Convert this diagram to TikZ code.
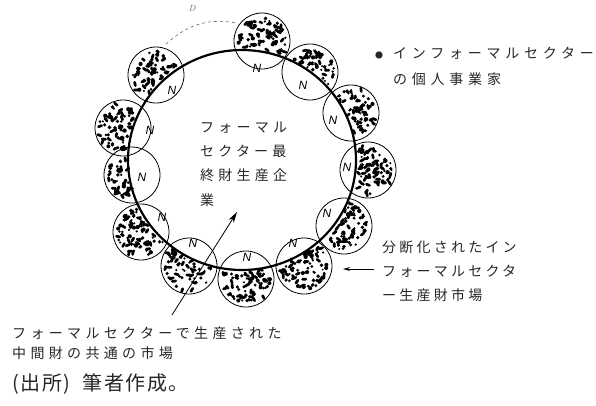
\documentclass[tikz,border=0pt]{standalone}
\usepackage{fontspec}
\newfontfamily\jp{Noto Sans CJK JP}
\newfontfamily\lat{Liberation Sans}
\usetikzlibrary{arrows.meta,shapes.geometric}
\begin{document}
\begin{tikzpicture}[x=1pt,y=-1pt,
  ring/.style={line width=2.2pt},
  cell/.style={circle,draw,line width=0.8pt,minimum size=56pt,inner sep=0pt},
  nlab/.style={font=\lat\itshape\fontsize{12}{12}\selectfont,inner sep=0pt},
  jlab/.style={inner sep=0pt,anchor=base west,align=left,text=black!85},
  conn/.style={line width=0.8pt},
]
\useasboundingbox (0,0) rectangle (596,405);
\pgfmathsetseed{4711}
% stippled individual-firm circles
\foreach \cx/\cy [count=\i] in {262/41,310/72,351/113,368/170,344/226,304/266,246/279,189/266,141/232,132/175,123/128,156/75} {
  \foreach \k in {1,...,110} {
    \pgfmathsetmacro\rr{24*sqrt(rnd)}
    \pgfmathsetmacro\aa{360*rnd}
    \pgfmathsetmacro\px{\cx+\rr*cos(\aa)}
    \pgfmathsetmacro\py{\cy+\rr*sin(\aa)}
    \pgfmathsetmacro\ee{((\px-242)/114)*((\px-242)/114)+((\py-160)/110)*((\py-160)/110)}
    \pgfmathsetmacro\ty{rnd}
    \pgfmathsetmacro\sz{1.1+1.1*rnd}
    \pgfmathsetmacro\ang{360*rnd}
    \ifdim\ee pt>1.035pt
      \ifdim\ty pt<0.65pt
        \fill (\px,\py) circle[radius=\sz pt];
      \else
        \draw[line width=2.7pt,line cap=round] (\px,\py) -- ++(\ang:3.4);
      \fi
    \fi
  }
  \node[cell] (c\i) at (\cx,\cy) {};
}
% common market ring
\node[draw,ring,ellipse,minimum width=228pt,minimum height=220pt,inner sep=0pt] (ring) at (242,160) {};
% N labels
\foreach \nx/\ny [count=\i] in {257/68,303/85,333/120,347/167,327/213,293/243,247/257,193/243,162/217,142/177,150/130,172/90} {
  \node[nlab] (n\i) at (\nx,\ny) {N};
}
% dashed arc with label
\coordinate (d1) at (166,44);
\coordinate (d2) at (236,23);
\draw[dashed,black!60,line width=0.6pt] (d1) .. controls (184,28) and (204,17) .. (d2);
\node[font=\fontsize{9}{9}\selectfont\itshape,text=black!60,inner sep=0pt] (dl) at (192,8) {D};
% texts (anchor = baseline of last line)
\node[jlab,font=\jp\fontsize{14}{24.3}\selectfont\addfontfeatures{LetterSpace=30}] (center) at (200,205.2)
  {フォーマル\\セクター最\\終財生産企\\業};
\node[jlab,font=\jp\fontsize{14}{26}\selectfont\addfontfeatures{LetterSpace=34}] (firm) at (393,84)
  {\makebox[0pt][r]{\fontsize{8}{8}\selectfont ●\hspace{10pt}}インフォーマルセクター\\の個人事業家};
\node[jlab,font=\jp\fontsize{14}{24}\selectfont\addfontfeatures{LetterSpace=23}] (frag) at (382,300.3)
  {分断化されたイン\\フォーマルセクタ\\ー生産財市場};
\node[jlab,font=\jp\fontsize{14}{20}\selectfont\addfontfeatures{LetterSpace=31}] (common) at (12,358.3)
  {フォーマルセクターで生産された\\中間財の共通の市場};
\node[jlab,font=\jp\fontsize{20}{20}\selectfont\addfontfeatures{LetterSpace=8}] (src) at (12,390.6)
  {(出所)\hspace{12pt}筆者作成。};
% arrows
\coordinate (a1s) at (172,315);
\coordinate (a1e) at (237,212);
\draw[conn,-{Stealth[length=11pt,width=6pt]}] (a1s) -- (a1e);
\coordinate (a2s) at (374,269);
\coordinate (a2e) at (343,269);
\draw[conn,-{Stealth[length=7pt,width=4pt]}] (a2s) -- (a2e);
\end{tikzpicture}
\end{document}
